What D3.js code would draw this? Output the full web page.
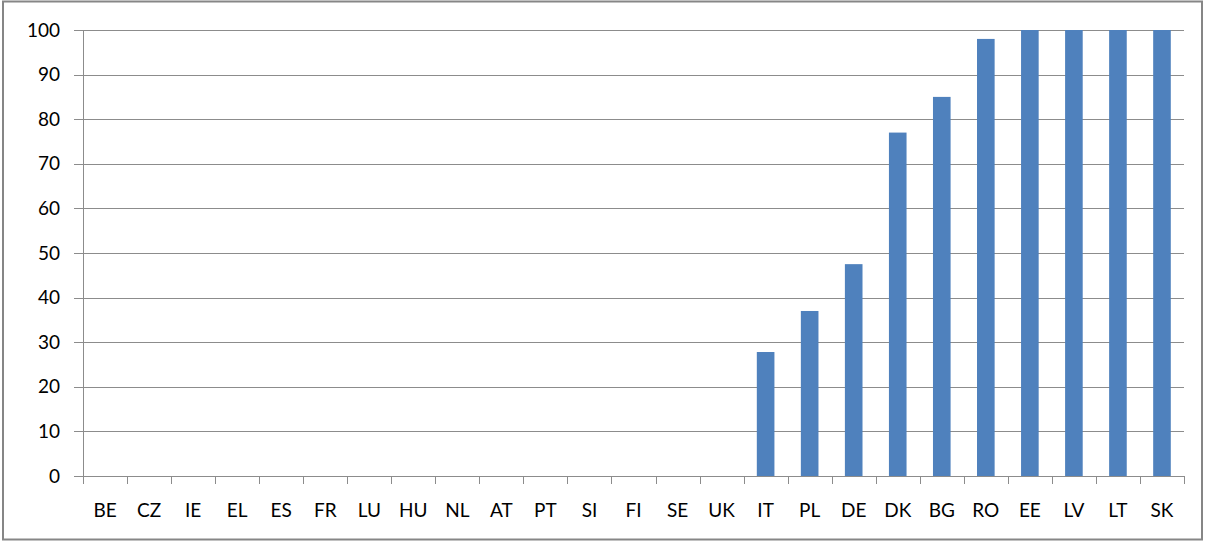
<!DOCTYPE html>
<html>
<head>
<script src="https://d3js.org/d3.v7.min.js"></script>
<style>
  body { margin: 0; background: #fff; }
  text { font-family: Lato, "Open Sans", sans-serif; font-size: 19px; fill: #000; }
  .grid line { stroke: #8c8c8c; stroke-width: 1px; }
</style>
</head>
<body>
<svg width="1205" height="543"></svg>
<script>
var categories = ["BE","CZ","IE","EL","ES","FR","LU","HU","NL","AT","PT","SI","FI","SE","UK","IT","PL","DE","DK","BG","RO","EE","LV","LT","SK"];
var values = [0,0,0,0,0,0,0,0,0,0,0,0,0,0,0,27.8,37,47.5,77,85,98,100,100,100,100];
var yTicks = [0,10,20,30,40,50,60,70,80,90,100];

var svg = d3.select("svg");

// outer frame
svg.append("rect")
  .attr("x", 3).attr("y", 1.5)
  .attr("width", 1199).attr("height", 538)
  .attr("fill", "none")
  .attr("stroke", "#868686")
  .attr("stroke-width", 2);

var plotLeft = 83, plotRight = 1184, plotTop = 30, plotBottom = 476;

var x = d3.scaleBand().domain(categories).range([plotLeft, plotRight]).paddingInner(0.6).paddingOuter(0.3);
var xCat = d3.scaleBand().domain(categories).range([plotLeft, plotRight]);
var y = d3.scaleLinear().domain([0, 100]).range([plotBottom, plotTop]);

// gridlines + y ticks
var grid = svg.append("g").attr("class", "grid");
grid.selectAll("line")
  .data(yTicks)
  .enter().append("line")
  .attr("x1", plotLeft - 9).attr("x2", plotRight)
  .attr("y1", function(d) { return Math.round(y(d)) + 0.5; })
  .attr("y2", function(d) { return Math.round(y(d)) + 0.5; });

svg.append("g").selectAll("text")
  .data(yTicks)
  .enter().append("text")
  .attr("x", 60)
  .attr("y", function(d) { return y(d); })
  .attr("dy", "0.35em")
  .attr("text-anchor", "end")
  .text(function(d) { return d; });

// y axis line
svg.append("line")
  .attr("x1", plotLeft + 0.5).attr("x2", plotLeft + 0.5)
  .attr("y1", plotTop).attr("y2", plotBottom)
  .attr("stroke", "#8c8c8c");

// x ticks at category boundaries
var bounds = categories.map(function(c) { return xCat(c); }).concat([plotRight]);
svg.append("g").selectAll("line")
  .data(bounds)
  .enter().append("line")
  .attr("x1", function(d) { return Math.round(d) + 0.5; })
  .attr("x2", function(d) { return Math.round(d) + 0.5; })
  .attr("y1", plotBottom).attr("y2", plotBottom + 8)
  .attr("stroke", "#8c8c8c");

// bars
svg.append("g").selectAll("rect")
  .data(values)
  .enter().append("rect")
  .attr("x", function(d, i) { return x(categories[i]); })
  .attr("width", x.bandwidth())
  .attr("y", function(d) { return y(d); })
  .attr("height", function(d) { return plotBottom - y(d); })
  .attr("fill", "#4f81bd");

// x labels
svg.append("g").selectAll("text")
  .data(categories)
  .enter().append("text")
  .attr("x", function(d) { return xCat(d) + xCat.bandwidth() / 2; })
  .attr("y", 517)
  .attr("text-anchor", "middle")
  .text(function(d) { return d; });
</script>
</body>
</html>
